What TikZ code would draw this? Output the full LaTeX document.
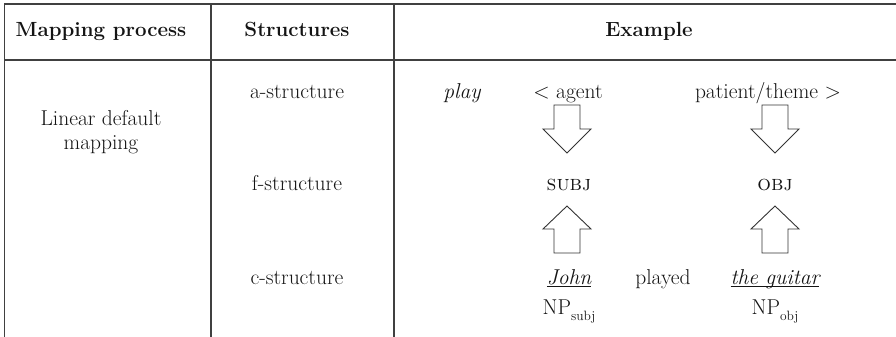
\documentclass[tikz,border=0pt]{standalone}
\usepackage{fontspec}
\usepackage{tikz}
\newcommand{\myul}[1]{\setbox0\hbox{#1}\rlap{\rule[-3.2pt]{\wd0}{0.9pt}}\box0}
\begin{document}
\begin{tikzpicture}[x=1pt,y=-1pt,
  rule/.style={draw=black!75,line width=1.2pt},
  txt/.style={inner sep=0pt,anchor=base,text=black!92,font=\fontsize{21.5}{25}\selectfont},
  head/.style={txt,font=\fontsize{20.5}{24}\selectfont\bfseries},
  blockarrow/.style={draw=black!80,line width=0.9pt,fill=white,line join=miter}]
\useasboundingbox (0,0) rectangle (896,337);
% table rules
\draw[rule] (4,4) -- (896,4);
\draw[rule] (4,60) -- (896,60);
\draw[rule] (4.5,4) -- (4.5,337);
\draw[rule] (211,4) -- (211,337);
\draw[rule] (394,4) -- (394,337);
% headers
\node[head] (h1) at (101,37) {Mapping process};
\node[head] (h2) at (297,37) {Structures};
\node[head] (h3) at (649,37) {Example};
% first column
\node[txt] (lin1) at (101,125) {Linear default};
\node[txt] (lin2) at (101,149) {mapping};
% second column
\node[txt] (as) at (297,98) {a-structure};
\node[txt] (fs) at (297,190) {f-structure};
\node[txt] (cs) at (297,284) {c-structure};
% example column
\node[txt] (play) at (462,98) {\itshape play};
\node[txt] (agent) at (568,98) {< agent};
\node[txt] (pat) at (768,98) {patient/theme >};
\node[txt] (subj) at (569,190) {\scshape subj};
\node[txt] (obj) at (775,190) {\scshape obj};
\node[txt] (john) at (569,284) {\myul{\itshape John}};
\node[txt] (played) at (663,284) {played};
\node[txt] (guitar) at (775,284) {\myul{\itshape the guitar}};
\node[txt] (nps) at (569,314) {NP\raisebox{-6pt}{\fontsize{13.5}{14}\selectfont subj}};
\node[txt] (npo) at (775,314) {NP\raisebox{-6pt}{\fontsize{13.5}{14}\selectfont obj}};
% block arrows
\foreach \c in {567,775}{
  \draw[blockarrow] (\c-13,105) -- (\c+13,105) -- (\c+13,129) -- (\c+24,129)
    -- (\c,153) -- (\c-24,129) -- (\c-13,129) -- cycle;
  \draw[blockarrow] (\c-13,253) -- (\c+13,253) -- (\c+13,229) -- (\c+24,229)
    -- (\c,206) -- (\c-24,229) -- (\c-13,229) -- cycle;
}
\end{tikzpicture}
\end{document}
